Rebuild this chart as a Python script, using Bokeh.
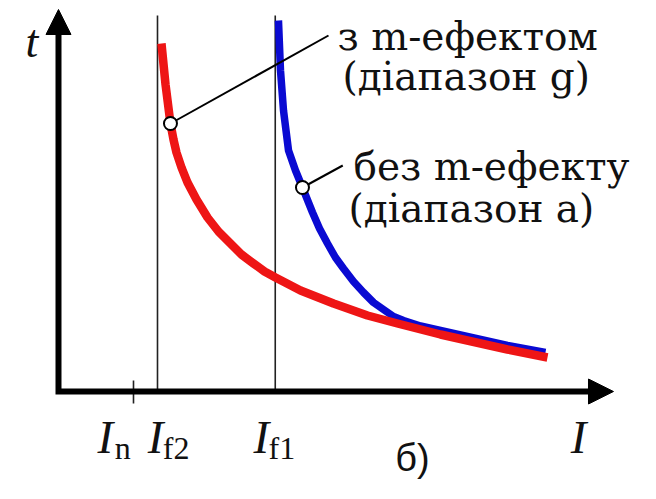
from bokeh.plotting import figure
from bokeh.models import Range1d, Arrow, NormalHead
from bokeh.core.properties import value
from bokeh.embed import file_html
from bokeh.resources import INLINE

# ---- data (current I, time t; arbitrary schematic units) ----
tick_names = ["n", "f2", "f1"]
tick_values = [1.0, 1.32, 2.89]

# curve "з m-ефектом (діапазон g)" (red)
red_I = [1.373, 1.427, 1.493, 1.533, 1.573, 1.64, 1.72, 1.84, 1.987, 2.133, 2.293, 2.44, 2.60,
         2.747, 2.893, 3.227, 3.667, 4.12, 4.52, 5.093, 5.987, 6.52]
red_t = [6.96, 6.14, 5.36, 5.04, 4.78, 4.48, 4.18, 3.84, 3.48, 3.20, 2.96, 2.74, 2.56,
         2.40, 2.28, 2.02, 1.76, 1.52, 1.36, 1.14, 0.84, 0.68]

# curve "без m-ефекту (діапазон a)" (blue)
blue_I = [2.933, 2.96, 3.00, 3.067, 3.16, 3.253, 3.387, 3.48, 3.587, 3.693, 3.80, 3.933, 4.067,
          4.20, 4.333, 4.467, 4.60, 4.827, 5.093, 5.987, 6.493]
blue_t = [7.42, 6.42, 5.62, 4.82, 4.42, 4.08, 3.58, 3.26, 2.96, 2.68, 2.46, 2.20, 1.98,
          1.78, 1.64, 1.50, 1.42, 1.31, 1.22, 0.92, 0.78]

# annotation points on the curves
red_mark = (1.493, 5.36)
blue_mark = (3.253, 4.08)
red_text = ["з m-ефектом", "(діапазон g)"]
blue_text = ["без m-ефекту", "(діапазон a)"]

# ---- figure ----
W, H = 640, 483
p = figure(width=W, height=H, output_backend="svg", toolbar_location=None,
           x_range=Range1d(-0.7733, 7.76), y_range=Range1d(-1.84, 7.82),
           x_axis_type=None, y_axis_type=None, min_border=0)
p.grid.visible = False
p.outline_line_color = None
p.background_fill_color = "white"
p.border_fill_color = "white"

SERIF = value("Liberation Serif")
CYR = value("DejaVu Serif")
INK = "#111111"

# vertical reference lines at I_f2, I_f1
p.segment(x0=tick_values[1:], y0=[0, 0], x1=tick_values[1:], y1=[7.52, 7.52],
          line_color="#222222", line_width=1.6)
# tick at I_n
p.segment(x0=[tick_values[0]], y0=[0.22], x1=[tick_values[0]], y1=[-0.24],
          line_color="#222222", line_width=1.6)

# curves
p.line(blue_I, blue_t, line_color="#0a0ad2", line_width=7.5, line_cap="butt", line_join="round")
p.line(red_I, red_t, line_color="#ee1515", line_width=8.5, line_cap="butt", line_join="round")

# axes (L-shape) with arrow heads
x_tip, y_tip = 7.40, 7.64
p.line([0, 0, x_tip - 0.2], [y_tip - 0.3, 0, 0], line_color="black", line_width=6, line_join="miter")
p.add_layout(Arrow(x_start=x_tip - 0.4, y_start=0, x_end=x_tip, y_end=0, line_alpha=0,
                   end=NormalHead(size=25, fill_color="black", line_color="black")))
p.add_layout(Arrow(x_start=0, y_start=y_tip - 0.6, x_end=0, y_end=y_tip, line_alpha=0,
                   end=NormalHead(size=25, fill_color="black", line_color="black")))

# leader lines and markers
p.segment(x0=[red_mark[0], blue_mark[0]], y0=[red_mark[1], blue_mark[1]],
          x1=[3.60, 3.79], y1=[7.12, 4.52], line_color="black", line_width=2)
p.scatter([red_mark[0], blue_mark[0]], [red_mark[1], blue_mark[1]], size=13,
          fill_color="white", line_color="black", line_width=2)

# curve texts
p.text(x=[3.72, 3.787], y=[7.10, 6.30], text=red_text, text_font=CYR,
       text_font_size="39px", text_baseline="alphabetic", text_align="left", text_color=INK)
p.text(x=[3.933, 3.867], y=[4.50, 3.66], text=blue_text, text_font=CYR,
       text_font_size="39px", text_baseline="alphabetic", text_align="left", text_color=INK)

# axis labels
p.text(x=[-0.44], y=[7.01], text=["t"], text_font=SERIF, text_font_style="italic",
       text_font_size="46px", text_baseline="alphabetic", text_align="left", text_color=INK)
lab_x = [tick_values[0] - 0.48, tick_values[1] - 0.13, tick_values[2] - 0.29, 6.83]
p.text(x=lab_x, y=[-0.90] * 4, text=["I", "I", "I", "I"], text_font=SERIF, text_font_style="italic",
       text_font_size="47px", text_baseline="alphabetic", text_align="left", text_color=INK)
sub_x = [tick_values[0] - 0.25, tick_values[1] + 0.07, tick_values[2] - 0.09]
p.text(x=sub_x, y=[-1.13] * 3, text=tick_names, text_font=SERIF,
       text_font_size="32px", text_baseline="alphabetic", text_align="left", text_color=INK)
p.text(x=[4.49], y=[-1.32], text=["б)"], text_font=value("Liberation Sans"),
       text_font_size="38px", text_baseline="alphabetic", text_align="left", text_color=INK)

open("out.html", "w").write(file_html(p, INLINE))
